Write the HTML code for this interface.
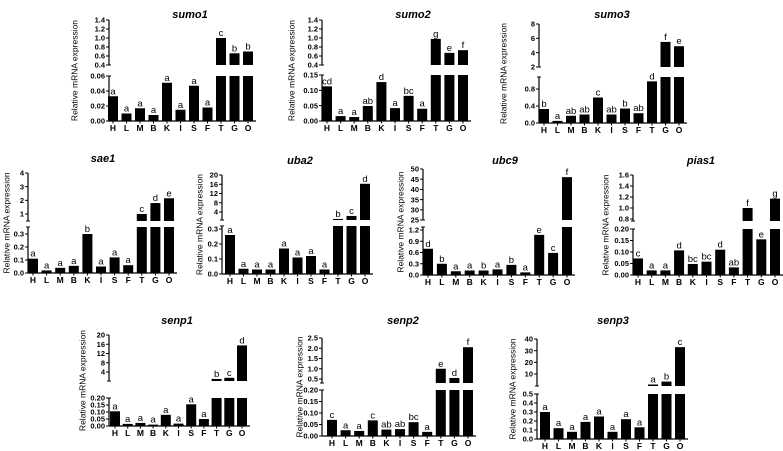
<!DOCTYPE html>
<html><head><meta charset="utf-8">
<style>
html,body{margin:0;padding:0;background:#fff;}
svg{display:block;font-family:"Liberation Sans",Arial,sans-serif;}
</style></head>
<body>
<svg id="chart" width="783" height="451" viewBox="0 0 783 451" xmlns="http://www.w3.org/2000/svg"></svg>
<script>
const categories = ["H","L","M","B","K","I","S","F","T","G","O"];
const sumo1Values = [0.033,0.010,0.017,0.008,0.051,0.015,0.047,0.018,1.00,0.66,0.70];
const sumo1Letters = ["a","a","a","a","a","a","a","a","c","b","b"];
const sumo2Values = [0.113,0.016,0.013,0.049,0.127,0.042,0.082,0.040,0.98,0.67,0.73];
const sumo2Letters = ["cd","a","a","ab","d","a","bc","a","g","e","f"];
const sumo3Values = [0.33,0.05,0.17,0.20,0.60,0.20,0.34,0.23,0.98,5.5,4.9];
const sumo3Letters = ["b","a","ab","ab","c","ab","b","ab","d","f","e"];
const sae1Values = [0.11,0.02,0.04,0.055,0.30,0.05,0.12,0.06,1.0,1.8,2.15];
const sae1Letters = ["a","a","a","a","b","a","a","a","c","d","e"];
const uba2Values = [0.26,0.035,0.03,0.03,0.17,0.11,0.12,0.03,1.0,2.3,16.2];
const uba2Letters = ["a","a","a","a","a","a","a","a","b","c","d"];
const ubc9Values = [0.70,0.30,0.10,0.12,0.12,0.15,0.27,0.07,1.07,0.59,46];
const ubc9Letters = ["d","b","a","a","b","a","b","a","e","c","f"];
const pias1Values = [0.072,0.020,0.020,0.107,0.048,0.058,0.110,0.033,1.0,0.155,1.17];
const pias1Letters = ["c","a","a","d","bc","bc","d","ab","f","e","g"];
const senp1Values = [0.105,0.015,0.022,0.010,0.080,0.017,0.155,0.050,1.0,1.5,15.5];
const senp1Letters = ["a","a","a","a","a","a","a","a","b","c","d"];
const senp2Values = [0.070,0.025,0.022,0.068,0.028,0.030,0.060,0.018,1.0,0.55,2.05];
const senp2Letters = ["c","a","a","c","ab","ab","bc","a","e","d","f"];
const senp3Values = [0.30,0.12,0.08,0.19,0.25,0.08,0.22,0.13,1.0,3.5,33];
const senp3Letters = ["a","a","a","a","a","a","a","a","a","b","c"];

const panels = [
 {name:"sumo1",vals:sumo1Values,lets:sumo1Letters,ax:109,x0:113,dx:13.5,tx:190,ty:14,yl:75,
  up:{a:[0.4,65],b:[1.4,20],top:20,bot:65,ticks:[0.4,0.6,0.8,1.0,1.2,1.4],dec:1},
  lo:{a:[0,121],b:[0.06,76],top:76,bot:121,ticks:[0,0.02,0.04,0.06],dec:2}},
 {name:"sumo2",vals:sumo2Values,lets:sumo2Letters,ax:322,x0:327,dx:13.6,tx:413,ty:14,yl:292,
  up:{a:[0.4,65],b:[1.4,20],top:20,bot:65,ticks:[0.4,0.6,0.8,1.0,1.2,1.4],dec:1},
  lo:{a:[0,121],b:[0.15,75],top:75,bot:121,ticks:[0,0.05,0.10,0.15],dec:2}},
 {name:"sumo3",vals:sumo3Values,lets:sumo3Letters,ax:539,x0:544,dx:13.5,tx:612,ty:14,yl:504,
  up:{a:[2,67],b:[8,24],top:24,bot:67,ticks:[2,4,6,8],dec:0},
  lo:{a:[0,123],b:[0.8,89],top:77,bot:123,ticks:[0,0.4,0.8],dec:1}},
 {name:"sae1",vals:sae1Values,lets:sae1Letters,ax:28,x0:33,dx:13.6,tx:103,ty:158,yl:7,
  up:{a:[1,214],b:[4,173],top:173,bot:221,ticks:[1,2,3,4],dec:0},
  lo:{a:[0,273],b:[0.3,234],top:227,bot:273,ticks:[0,0.1,0.2,0.3],dec:1}},
 {name:"uba2",vals:uba2Values,lets:uba2Letters,ax:222,x0:230,dx:13.5,tx:300,ty:160,yl:200,
  up:{a:[4,212],b:[20,175],top:175,bot:220,ticks:[4,8,12,16,20],dec:0},
  lo:{a:[0,274],b:[0.3,229],top:226,bot:274,ticks:[0,0.1,0.2,0.3],dec:1}},
 {name:"ubc9",vals:ubc9Values,lets:ubc9Letters,ax:423,x0:428,dx:13.9,tx:505,ty:160,yl:401,
  up:{a:[25,220],b:[50,169],top:169,bot:220,ticks:[25,30,35,40,45,50],dec:0},
  lo:{a:[0,275],b:[1.2,230],top:227,bot:275,ticks:[0,0.3,0.6,0.9,1.2],dec:1}},
 {name:"pias1",vals:pias1Values,lets:pias1Letters,ax:633,x0:638,dx:13.7,tx:701,ty:160,yl:606,
  up:{a:[0.8,219],b:[1.6,175],top:175,bot:221,ticks:[0.8,1.0,1.2,1.4,1.6],dec:1},
  lo:{a:[0,275],b:[0.2,229],top:229,bot:275,ticks:[0,0.05,0.10,0.15,0.20],dec:2}},
 {name:"senp1",vals:senp1Values,lets:senp1Letters,ax:109,x0:115,dx:12.7,tx:177,ty:320,yl:83,
  up:{a:[4,372],b:[20,335],top:335,bot:381,ticks:[4,8,12,16,20],dec:0},
  lo:{a:[0,426],b:[0.2,398],top:398,bot:426,ticks:[0,0.05,0.10,0.15,0.20],dec:2}},
 {name:"senp2",vals:senp2Values,lets:senp2Letters,ax:322,x0:332,dx:13.6,tx:403,ty:320,yl:300,
  up:{a:[0.5,379],b:[2.5,338],top:338,bot:383,ticks:[0.5,1.0,1.5,2.0,2.5],dec:1},
  lo:{a:[0,436],b:[0.2,390],top:390,bot:436,ticks:[0,0.05,0.10,0.15,0.20],dec:2}},
 {name:"senp3",vals:senp3Values,lets:senp3Letters,ax:537,x0:545,dx:13.5,tx:613,ty:320,yl:513,
  up:{a:[10,374],b:[40,339],top:339,bot:386,ticks:[10,20,30,40],dec:0},
  lo:{a:[0,439],b:[0.5,394],top:394,bot:439,ticks:[0,0.1,0.2,0.3,0.4,0.5],dec:1}}
];

const NS="http://www.w3.org/2000/svg";
const svg=document.getElementById("chart");
function mk(tag,attrs,parent){const e=document.createElementNS(NS,tag);for(const k in attrs)e.setAttribute(k,attrs[k]);(parent||svg).appendChild(e);return e;}
function scale(seg){const s=(seg.b[1]-seg.a[1])/(seg.b[0]-seg.a[0]);return v=>seg.a[1]+(v-seg.a[0])*s;}
function inv(seg,y){const s=(seg.b[1]-seg.a[1])/(seg.b[0]-seg.a[0]);return seg.a[0]+(y-seg.a[1])/s;}

panels.forEach(p=>{
  const g=mk("g",{});
  
  
  const yU=scale(p.up), yL=scale(p.lo);
  const loMax=inv(p.lo,p.lo.top), upMin=inv(p.up,p.up.bot);
  const bw=10;
  const t=mk("text",{x:p.tx,y:p.ty+4,"text-anchor":"middle","font-size":"11","font-weight":"bold","font-style":"italic"},g);
  t.textContent=p.name;
  
  
  const cy=(p.up.top+p.lo.bot)/2;
  const yl=mk("text",{x:p.yl,y:cy,"text-anchor":"middle","font-size":"8.5",transform:`rotate(-90 ${p.yl} ${cy})`,"dominant-baseline":"middle"},g);
  yl.textContent="Relative mRNA expression";
  
  
  [["up",p.up,yU],["lo",p.lo,yL]].forEach(([nm,seg,f])=>{
    const ln=mk("line",{x1:p.ax,x2:p.ax,y1:seg.top,y2:seg.bot,stroke:"#000","stroke-width":1.2},g);
    
    
    seg.ticks.forEach(v=>{
      const y=f(v);
      mk("line",{x1:p.ax-3,x2:p.ax,y1:y,y2:y,stroke:"#000","stroke-width":1},g);
      const tl=mk("text",{x:p.ax-4,y:y+2.7,"text-anchor":"end","font-size":"7.5","font-weight":"bold"},g);
      tl.textContent=v.toFixed(seg.dec);
      
      
    });
    mk("line",{x1:p.ax-2,x2:p.ax+2,y1:nm==="up"?seg.bot:seg.top,y2:nm==="up"?seg.bot:seg.top,stroke:"#000","stroke-width":1},g);
  });
  const xend=p.x0+p.dx*(categories.length-1)+bw/2+3;
  const base=mk("line",{x1:p.ax,x2:xend,y1:p.lo.bot,y2:p.lo.bot,stroke:"#000","stroke-width":1.2},g);
  
  
  categories.forEach((c,i)=>{
    const cx=p.x0+p.dx*i, v=p.vals[i];
    mk("line",{x1:cx,x2:cx,y1:p.lo.bot,y2:p.lo.bot+2.5,stroke:"#000"},g);
    const xl=mk("text",{x:cx,y:p.lo.bot+10,"text-anchor":"middle","font-size":"8.5","font-weight":"bold"},g);
    xl.textContent=c;
    
    
    const yTopLo=v>=loMax?p.lo.top:yL(v);
    const r=mk("rect",{x:cx-bw/2,y:yTopLo,width:bw,height:Math.max(0,p.lo.bot-yTopLo),fill:"#000"},g);
    
    
    let labY=yTopLo;
    if(v>=loMax){
      labY=p.lo.top;
      if(v>upMin){
        const yv=Math.max(p.up.top,yU(v));
        const r2=mk("rect",{x:cx-bw/2,y:yv,width:bw,height:Math.max(1,p.up.bot-yv),fill:"#000"},g);
        
        
        labY=yv;
      }
    }
    const lt=mk("text",{x:cx,y:labY-2,"text-anchor":"middle","font-size":"9.5"},g);
    lt.textContent=p.lets[i];
    
    
  });
});
</script>
</body></html>
